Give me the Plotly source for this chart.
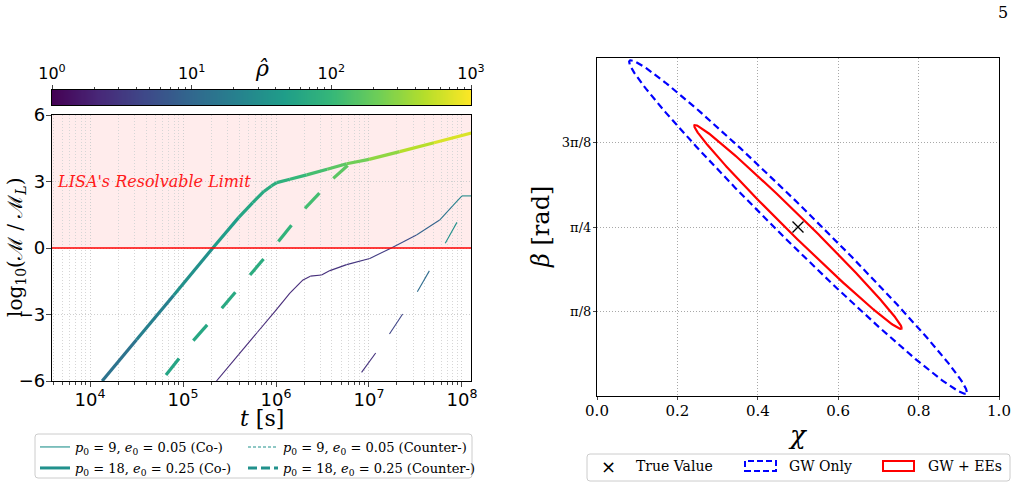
import numpy as np
import plotly.graph_objects as go
from plotly.colors import sample_colorscale

W, H = 1023, 488

# ---------------- Left panel data ----------------
# p0 = 18, e0 = 0.25 (Co-)
T_18_CO = [1.35e4, 3.16e4, 7.94e4, 2.09e5, 3.98e5, 5.62e5, 7.41e5, 8.91e5, 1.02e6,
           1.41e6, 2.14e6, 3.55e6, 5.75e6, 1.0e7, 2.14e7, 5.01e7, 1.26e8]
LOGM_18_CO = [-6.0, -4.14, -2.13, 0.0, 1.38, 2.05, 2.55, 2.8, 2.95,
              3.1, 3.3, 3.55, 3.8, 4.0, 4.35, 4.75, 5.19]
RHO_18_CO = [11.5, 16.2, 26.0, 40.0, 55.0, 63.1, 67.6, 72.4, 77.6,
             89.1, 110, 145, 191, 251, 380, 575, 813]

# p0 = 9, e0 = 0.05 (Co-)
T_9_CO = [2.29e5, 3.98e5, 6.31e5, 1.0e6, 1.41e6, 1.95e6, 2.34e6, 3.09e6, 3.80e6,
          5.75e6, 1.02e7, 1.74e7, 3.24e7, 5.75e7, 7.94e7, 1.0e8, 1.26e8]
LOGM_9_CO = [-6.0, -4.8, -3.8, -2.8, -2.04, -1.44, -1.27, -1.22, -1.02,
             -0.75, -0.47, 0.0, 0.59, 1.26, 1.9, 2.35, 2.35]
RHO_9_CO = [2.29, 2.29, 2.29, 2.29, 2.29, 2.45, 2.45, 2.45, 2.63,
            2.82, 3.02, 3.98, 6.92, 12.0, 18.2, 27.5, 31.6]

# p0 = 18, e0 = 0.25 (Counter-)
T_18_CT = [6.56e4, 1.29e5, 2.61e5, 5.25e5, 1.06e6, 2.05e6, 4.13e6, 5.89e6]
LOGM_18_CT = [-5.73, -4.18, -2.72, -1.22, 0.29, 1.79, 3.14, 3.72]
RHO_18_CT = [55.0, 59.6, 63.1, 67.6, 77.6, 102, 145, 191]

# p0 = 9, e0 = 0.05 (Counter-)
T_9_CT = [8.32e6, 1.66e7, 3.31e7, 6.61e7, 9.33e7]
LOGM_9_CT = [-5.61, -3.88, -1.97, 0.21, 1.34]
RHO_9_CT = [2.29, 3.24, 5.62, 22.4, 44.7]

LEGEND_LABELS = [
    "<i>p</i><sub>0</sub> = 9, <i>e</i><sub>0</sub> = 0.05 (Co-)",
    "<i>p</i><sub>0</sub> = 18, <i>e</i><sub>0</sub> = 0.25 (Co-)",
    "<i>p</i><sub>0</sub> = 9, <i>e</i><sub>0</sub> = 0.05 (Counter-)",
    "<i>p</i><sub>0</sub> = 18, <i>e</i><sub>0</sub> = 0.25 (Counter-)",
]

X_TICKS = [1e4, 1e5, 1e6, 1e7, 1e8]
X_TICKTEXT = ["10<sup>4</sup>", "10<sup>5</sup>", "10<sup>6</sup>", "10<sup>7</sup>", "10<sup>8</sup>"]
Y_TICKS = [-6, -3, 0, 3, 6]
Y_TICKTEXT = ["\u22126", "\u22123", "0", "3", "6"]
CB_TICKS = [1, 10, 100, 1000]
CB_TICKTEXT = ["10<sup>0</sup>", "10<sup>1</sup>", "10<sup>2</sup>", "10<sup>3</sup>"]
LIMIT_LABEL_T = 4.15e3
LIMIT_LABEL_Y = 3

# ---------------- Right panel data ----------------
ELL_NAMES = ["GW Only", "GW + EEs"]
ELL_CENTER = [0.5, np.pi / 4]
ELL_SIGMA_CHI = [0.42, 0.258]
ELL_SIGMA_BETA = [0.775, 0.474]
ELL_RHO = [-0.9897, -0.992]
TRUE_CHI = [0.5]
TRUE_BETA = [np.pi / 4]
R_XTICKS = [0.0, 0.2, 0.4, 0.6, 0.8, 1.0]
R_XTICKTEXT = ["0.0", "0.2", "0.4", "0.6", "0.8", "1.0"]
R_YTICKS = [np.pi / 8, np.pi / 4, 3 * np.pi / 8]
R_YTICKTEXT = ["\u03c0/8", "\u03c0/4", "3\u03c0/8"]


def px_x(p):
    return p / W


def px_y(p):
    return 1 - p / H


SERIF = "DejaVu Serif"
SANS = "DejaVu Sans"

fig = go.Figure()


def vcolor(r):
    return sample_colorscale("Viridis", [min(max(np.log10(r) / 3.0, 0), 1)])[0]


def add_segments(t, m, rho, width, dash="solid"):
    for i in range(len(t) - 1):
        r = np.sqrt(rho[i] * rho[i + 1])
        fig.add_trace(go.Scatter(
            x=[t[i], t[i + 1]], y=[m[i], m[i + 1]], mode="lines",
            line=dict(color=vcolor(r), width=width, dash=dash),
            showlegend=False, hoverinfo="skip", xaxis="x", yaxis="y"))


add_segments(T_9_CO, LOGM_9_CO, RHO_9_CO, 1.1)
add_segments(T_18_CO, LOGM_18_CO, RHO_18_CO, 3.2)
add_segments(T_9_CT, LOGM_9_CT, RHO_9_CT, 1.1, "24px,60px")
add_segments(T_18_CT, LOGM_18_CT, RHO_18_CT, 3.2, "21px,40px")

# legend entries (one legend per entry to get the 2x2 layout)
leg_styles = [(1.1, "solid", "legend"), (3.0, "solid", "legend2"),
              (1.1, "3px,2px", "legend3"), (3.0, "9px,4px", "legend4")]
for lab, (w, d, lg) in zip(LEGEND_LABELS, leg_styles):
    fig.add_trace(go.Scatter(x=[None], y=[None], mode="lines", name=lab,
                             line=dict(color="#21918c", width=w, dash=d),
                             legend=lg, xaxis="x", yaxis="y"))

# colourbar drawn as heatmap
rho_bar = np.logspace(0, 3, 400)
fig.add_trace(go.Heatmap(x=rho_bar, y=[0], z=[np.log10(rho_bar)], colorscale="Viridis",
                         zmin=0, zmax=3, showscale=False, xaxis="x3", yaxis="y3",
                         hoverinfo="skip"))

# right panel ellipses
tt = np.linspace(0, 2 * np.pi, 400)
ell_styles = [dict(color="#0000ff", width=2.2, dash="7px,4px"), dict(color="#ff0000", width=2.2)]
for name, sx, sy, rho, st in zip(ELL_NAMES, ELL_SIGMA_CHI, ELL_SIGMA_BETA, ELL_RHO, ell_styles):
    cov = np.array([[sx * sx, rho * sx * sy], [rho * sx * sy, sy * sy]])
    L = np.linalg.cholesky(cov)
    pts = L @ np.vstack([np.cos(tt), np.sin(tt)])
    fig.add_trace(go.Scatter(x=ELL_CENTER[0] + pts[0], y=ELL_CENTER[1] + pts[1], mode="lines",
                             line=st, name=name, showlegend=False, xaxis="x2", yaxis="y2"))
fig.add_trace(go.Scatter(x=TRUE_CHI, y=TRUE_BETA, mode="markers", name="True Value",
                         marker=dict(symbol="x-thin", size=11, line=dict(width=1.4, color="black")),
                         showlegend=False, xaxis="x2", yaxis="y2"))

LX0, LX1, LY0, LY1 = 52, 471, 115, 381
RX0, RX1, RY0, RY1 = 597, 999, 58, 396

grid_l = dict(showgrid=True, gridcolor="#cfcfcf", griddash="1px,2px", gridwidth=1)
fig.update_layout(
    width=W, height=H, autosize=False,
    margin=dict(l=0, r=0, t=0, b=0, pad=0, autoexpand=False),
    paper_bgcolor="white", plot_bgcolor="white",
    xaxis=dict(type="log", domain=[px_x(LX0), px_x(LX1)], range=[3.591, 8.097], anchor="y",
               tickvals=X_TICKS, ticktext=X_TICKTEXT, ticks="outside", ticklen=5,
               ticklabelstandoff=-3,
               tickfont=dict(family=SANS, size=18, color="black"),
               showline=True, linecolor="black", linewidth=1.2, mirror=True,
               minor=dict(dtick="D1", ticks="outside", ticklen=3, showgrid=True,
                          gridcolor="#d6d6d6", griddash="1px,2px"),
               zeroline=False, **grid_l),
    yaxis=dict(domain=[px_y(LY1), px_y(LY0)], range=[-6, 6], anchor="x",
               tickvals=Y_TICKS, ticktext=Y_TICKTEXT, ticks="outside", ticklen=5,
               ticklabelstandoff=-3,
               tickfont=dict(family=SANS, size=18, color="black"),
               showline=True, linecolor="black", linewidth=1.2, mirror=True, zeroline=False,
               **grid_l),
    xaxis3=dict(type="log", domain=[px_x(LX0), px_x(LX1)], range=[0, 3], anchor="y3", side="top",
                tickvals=CB_TICKS, ticktext=CB_TICKTEXT, ticks="outside", ticklen=4,
                tickfont=dict(family=SANS, size=16, color="black"),
                minor=dict(dtick="D1", ticks="outside", ticklen=2),
                showline=True, linecolor="black", linewidth=1, mirror=True, showgrid=False,
                zeroline=False),
    yaxis3=dict(domain=[px_y(105), px_y(90)], range=[-0.5, 0.5], anchor="x3",
                showticklabels=False, ticks="", showgrid=False, zeroline=False,
                showline=True, linecolor="black", linewidth=1, mirror=True),
    xaxis2=dict(domain=[px_x(RX0), px_x(RX1)], range=[0, 1], anchor="y2",
                tickvals=R_XTICKS, ticktext=R_XTICKTEXT, ticks="outside", ticklen=3,
                ticklabelstandoff=-2,
                tickfont=dict(family=SERIF, size=15, color="black"),
                showline=True, linecolor="black", linewidth=1.2, mirror=True, zeroline=False,
                showgrid=True, gridcolor="#a8a8a8", griddash="1px,2px", gridwidth=1),
    yaxis2=dict(domain=[px_y(RY1), px_y(RY0)], range=[0, np.pi / 2], anchor="x2",
                tickvals=R_YTICKS, ticktext=R_YTICKTEXT, ticks="outside", ticklen=3,
                ticklabelstandoff=-1,
                tickfont=dict(family=SERIF, size=13, color="black"),
                showline=True, linecolor="black", linewidth=1.2, mirror=True, zeroline=False,
                showgrid=True, gridcolor="#a8a8a8", griddash="1px,2px", gridwidth=1),
    showlegend=True,
)

leg_common = dict(font=dict(family=SERIF, size=13, color="black"), bgcolor="rgba(0,0,0,0)",
                  borderwidth=0, xanchor="left", yanchor="middle", orientation="v")
fig.update_layout(
    legend=dict(x=px_x(35), y=px_y(447), **leg_common),
    legend2=dict(x=px_x(35), y=px_y(468), **leg_common),
    legend3=dict(x=px_x(243), y=px_y(447), **leg_common),
    legend4=dict(x=px_x(243), y=px_y(468), **leg_common),
)

# shading and limit line
fig.add_shape(type="rect", xref="x domain", yref="y", x0=0, x1=1, y0=0, y1=6,
              fillcolor="rgba(255,0,0,0.075)", line=dict(width=0), layer="below")
fig.add_shape(type="line", xref="x domain", yref="y", x0=0, x1=1, y0=0, y1=0,
              line=dict(color="#ff0000", width=1.6))


def rounded_rect(x0, y0, x1, y1, r=3):
    X0, X1 = px_x(x0), px_x(x1)
    Y0, Y1 = px_y(y1), px_y(y0)
    rx, ry = r / W, r / H
    return (f"M {X0+rx},{Y0} L {X1-rx},{Y0} Q {X1},{Y0} {X1},{Y0+ry} L {X1},{Y1-ry} "
            f"Q {X1},{Y1} {X1-rx},{Y1} L {X0+rx},{Y1} Q {X0},{Y1} {X0},{Y1-ry} "
            f"L {X0},{Y0+ry} Q {X0},{Y0} {X0+rx},{Y0} Z")


fig.add_shape(type="path", xref="paper", yref="paper", path=rounded_rect(35, 434, 472, 478),
              line=dict(color="#cccccc", width=1))
fig.add_shape(type="path", xref="paper", yref="paper", path=rounded_rect(587, 454, 1010, 481),
              line=dict(color="#cccccc", width=1))
# right legend symbols
fig.add_shape(type="rect", xref="paper", yref="paper", x0=px_x(745), x1=px_x(776),
              y0=px_y(471), y1=px_y(461), line=dict(color="#0000ff", width=2, dash="6px,3px"))
fig.add_shape(type="rect", xref="paper", yref="paper", x0=px_x(883), x1=px_x(914),
              y0=px_y(471), y1=px_y(461), line=dict(color="#ff0000", width=2))

ann_font = dict(family=SERIF, size=14, color="black")
anns = [
    # axis titles
    dict(x=px_x(262), y=px_y(418), text="<i>t</i> [s]", font=dict(family=SERIF, size=22, color="black"),
         xanchor="center", yanchor="middle"),
    dict(x=px_x(16), y=px_y(248), text="log<sub>10</sub>(\u2133 / \u2133<sub><i>L</i></sub>)",
         font=dict(family=SERIF, size=20, color="black"), textangle=-90,
         xanchor="center", yanchor="middle"),
    dict(x=px_x(798), y=px_y(435), text="<i>\u03c7</i>", font=dict(family=SERIF, size=26, color="black"),
         xanchor="center", yanchor="middle"),
    dict(x=px_x(541), y=px_y(227), text="<i>\u03b2</i> [rad]", font=dict(family=SERIF, size=24, color="black"),
         textangle=-90, xanchor="center", yanchor="middle"),
    # right legend
    dict(x=px_x(608), y=px_y(466), text="\u00d7", font=dict(family=SANS, size=18, color="black"),
         xanchor="center", yanchor="middle"),
    dict(x=px_x(634), y=px_y(466), text="True Value", font=ann_font, xanchor="left", yanchor="middle"),
    dict(x=px_x(787), y=px_y(466), text="GW Only", font=ann_font, xanchor="left", yanchor="middle"),
    dict(x=px_x(926), y=px_y(466), text="GW + EEs", font=ann_font, xanchor="left", yanchor="middle"),
    # colourbar label, page number
    dict(x=px_x(262), y=px_y(68), text="<i>\u03c1\u0302</i>", font=dict(family=SERIF, size=22, color="black"),
         xanchor="center", yanchor="middle"),
    dict(x=px_x(1003), y=px_y(12), text="5", font=dict(family=SERIF, size=16, color="black"),
         xanchor="center", yanchor="middle"),
    # limit label (log axis -> log10 position)
    dict(x=np.log10(LIMIT_LABEL_T), y=LIMIT_LABEL_Y, xref="x", yref="y",
         text="<i>LISA's Resolvable Limit</i>",
         font=dict(family=SERIF, size=16, color="#ff1a1a"), xanchor="left", yanchor="middle"),
]
for a in anns:
    a.setdefault("xref", "paper")
    a.setdefault("yref", "paper")
    a["showarrow"] = False
    fig.add_annotation(**a)

fig.write_html("out.html")
